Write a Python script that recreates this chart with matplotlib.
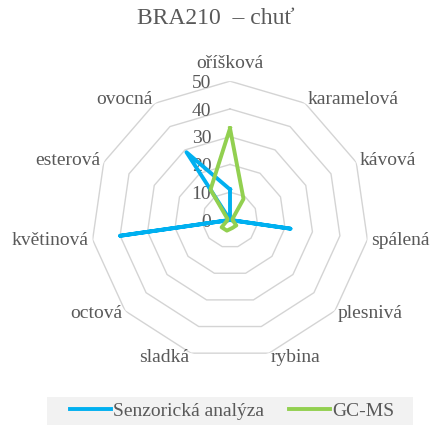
import numpy as np
import matplotlib.pyplot as plt
from matplotlib.transforms import offset_copy
from matplotlib.patches import Rectangle

categories = ["oříšková", "karamelová", "kávová", "spálená", "plesnivá", "rybina",
              "sladká", "octová", "květinová", "esterová", "ovocná"]
senzoricka = [11, 0, 0, 22, 0, 0, 0, 0, 40, 0, 29]
gcms = [33, 9, 1, 1, 3, 3, 4, 4, 1, 1, 13]
rings = [10, 20, 30, 40, 50]
tick_values = [0, 10, 20, 30, 40, 50]

FONT = "Liberation Serif"
GREY = "#595959"
BLUE = "#00B0F0"
GREEN = "#92D050"
FS = 14

fig = plt.figure(figsize=(4.3, 4.25), dpi=100)
ax = fig.add_axes([0.2121, 0.1558, 0.6456, 0.6532], projection="polar")
ax.set_theta_zero_location("N")
ax.set_theta_direction(-1)
ax.set_ylim(0, 50)
ax.grid(False)
ax.spines["polar"].set_visible(False)
ax.set_xticks([])
ax.set_yticks([])
ax.patch.set_alpha(0)

n = len(categories)
angles = np.linspace(0, 2 * np.pi, n, endpoint=False)
closed = np.append(angles, angles[0])

# polygon grid
for lvl in rings:
    ax.plot(closed, [lvl] * (n + 1), color="#d4d4d4", lw=1.0, zorder=1)

# radial tick labels left of the top axis
tr = offset_copy(ax.transData, fig=fig, x=-13.5, y=-1.5, units="points")
for v in tick_values:
    ax.text(0, v, str(v), transform=tr, ha="right", va="center",
            fontsize=FS, color=GREY, family=FONT, zorder=2)

# category labels
for a, lab in zip(angles, categories):
    s = np.sin(a)
    if abs(s) < 1e-6:
        ax.text(a, 56.5, lab, ha="center", va="center", fontsize=FS,
                color=GREY, family=FONT)
    else:
        ax.text(a, 51.5, lab, ha="left" if s > 0 else "right", va="center",
                fontsize=FS, color=GREY, family=FONT)

ax.plot(closed, senzoricka + senzoricka[:1], color=BLUE, lw=2.8,
        solid_joinstyle="round", label="Senzorická analýza", zorder=3)
ax.plot(closed, gcms + gcms[:1], color=GREEN, lw=2.8,
        solid_joinstyle="round", label="GC-MS", zorder=4)

fig.text(0.502, 1 - 19 / 425, "BRA210  – chuť", ha="center", va="center",
         fontsize=17, color=GREY, family=FONT)

fig.patches.append(Rectangle((47 / 430, 0), 366 / 430, 28 / 425,
                             transform=fig.transFigure, facecolor="#f2f2f2",
                             edgecolor="none", zorder=0))
fig.legend(loc="center", bbox_to_anchor=(0.54, 1 - 411 / 425), ncol=2,
           frameon=False, handlelength=2.1, handletextpad=0.1,
           columnspacing=1.3, prop={"family": FONT, "size": FS},
           labelcolor=GREY)

fig.savefig("out.png", dpi=100)
